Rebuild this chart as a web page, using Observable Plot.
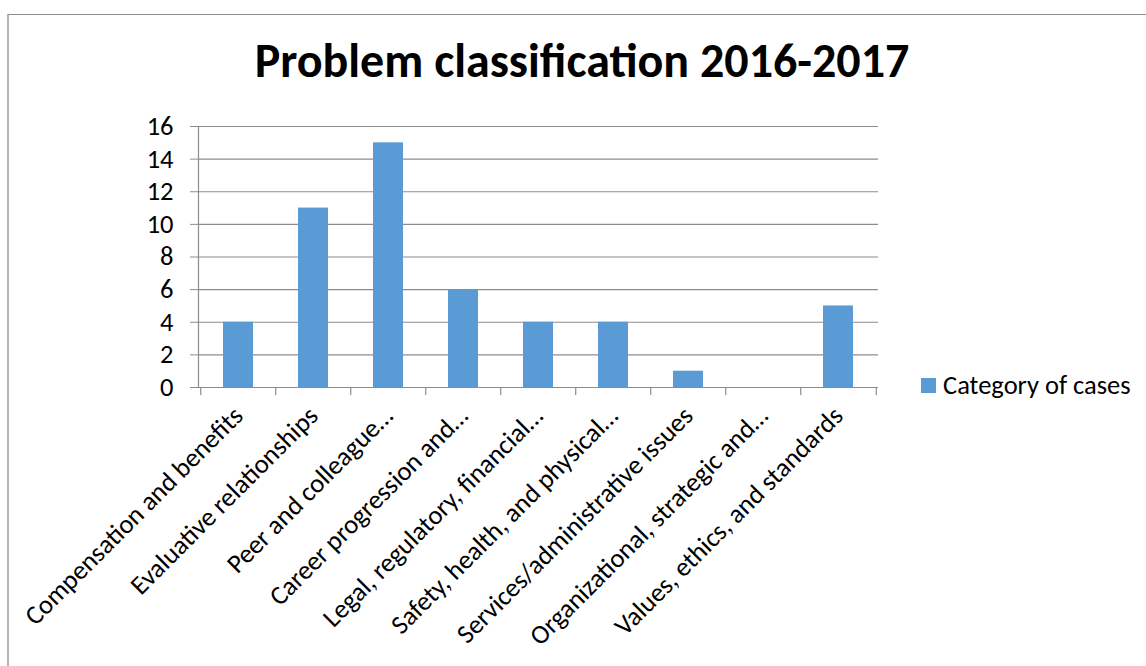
<!DOCTYPE html>
<html>
<head>
<meta charset="utf-8">
<script src="https://cdn.jsdelivr.net/npm/d3@7"></script>
<script src="https://cdn.jsdelivr.net/npm/@observablehq/plot@0.6"></script>
<style>
  html, body { margin: 0; padding: 0; background: #fff; }
  #chart { position: relative; width: 1146px; height: 666px; overflow: hidden; font-family: Calibri, Carlito, Lato, sans-serif; }
  #border { position: absolute; left: 7px; top: 14px; width: 1200px; height: 700px;
            border-left: 2px solid #b4b4b4; border-top: 1.5px solid #8c8c8c; }
  #title { position: absolute; left: 0; width: 1164px; top: 37px; text-align: center;
           font-weight: 700; font-size: 48px; line-height: 1; color: #000; }
  #legend { position: absolute; left: 921px; top: 369px; height: 32px; display: flex; align-items: center;
            font-size: 26.5px; color: #000; }
  #legend .swatch { width: 15px; height: 15px; background: #5B9BD5; margin-right: 7px; }
  #plot { position: absolute; left: 0; top: 0; }
</style>
</head>
<body>
<div id="chart">
  <div id="border"></div>
  <div id="plot"></div>
  <div id="title">Problem classification 2016-2017</div>
  <div id="legend"><div class="swatch"></div><span>Category of cases</span></div>
</div>
<script>
// Problem categories (labels as shown on the axis)
const categories = [
  "Compensation and benefits",
  "Evaluative relationships",
  "Peer and colleague…",
  "Career progression and…",
  "Legal, regulatory, financial…",
  "Safety, health, and physical…",
  "Services/administrative issues",
  "Organizational, strategic and…",
  "Values, ethics, and standards"
];
// Number of cases per category
const cases = [4, 11, 15, 6, 4, 4, 1, 0, 5];
// Value axis ticks
const yTicks = [0, 2, 4, 6, 8, 10, 12, 14, 16];

const data = categories.map((category, i) => ({category, cases: cases[i]}));

const W = 1146, H = 666;
const margin = {left: 198, right: 268, top: 126, bottom: 279};
const step = (W - margin.left - margin.right) / categories.length;
const gray = "#8c8c8c";

const chart = Plot.plot({
  width: W,
  height: H,
  marginLeft: margin.left,
  marginRight: margin.right,
  marginTop: margin.top,
  marginBottom: margin.bottom,
  style: {fontFamily: "Calibri, Carlito, Lato, sans-serif", fontSize: "26.5px", color: "#000", background: "transparent", overflow: "visible"},
  x: {domain: categories, paddingInner: 0.6, paddingOuter: 0.3, label: null},
  y: {domain: [0, 16], label: null},
  marks: [
    Plot.ruleY(yTicks, {stroke: gray, strokeWidth: 1.2}),
    Plot.frame({anchor: "left", stroke: gray, strokeWidth: 1.2}),
    Plot.barY(data, {x: "category", y: "cases", fill: "#5B9BD5"}),
    // category separators below the baseline
    Plot.ruleX(categories, {x: d => d, dx: -step / 2, y1: 0, y2: 0, insetBottom: -8, stroke: gray, strokeWidth: 1.2}),
    Plot.ruleX(categories.slice(-1), {x: d => d, dx: step / 2, y1: 0, y2: 0, insetBottom: -8, stroke: gray, strokeWidth: 1.2}),
    Plot.axisY({ticks: yTicks, tickSize: 8, tickPadding: 17, stroke: gray, fill: "#000", label: null}),
    Plot.axisX({tickSize: 0, tickPadding: 24, tickRotate: -45, fill: "#000", label: null})
  ]
});
document.getElementById("plot").appendChild(chart);
</script>
</body>
</html>
